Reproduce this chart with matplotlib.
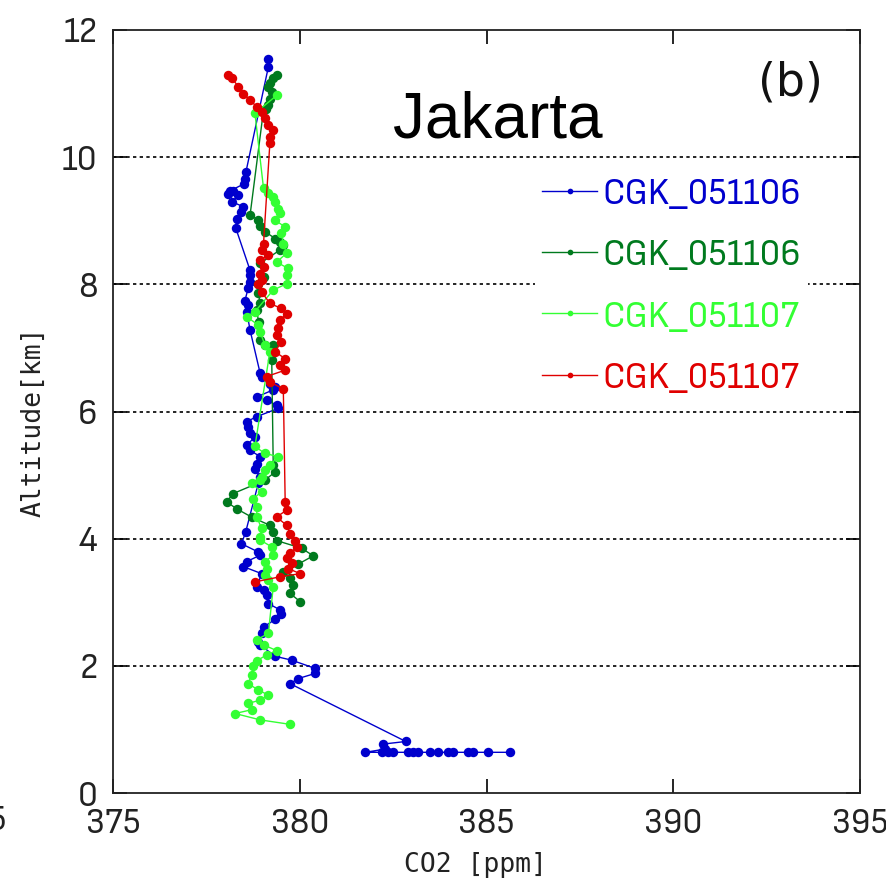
import matplotlib
matplotlib.use("Agg")
import matplotlib.pyplot as plt
from matplotlib import font_manager as fm

# ---------------- data ----------------
series_labels = ["CGK_051106", "CGK_051106", "CGK_051107", "CGK_051107"]
series_colors = ["#0000CD", "#007A1E", "#33FF33", "#E00000"]

blue_co2 = [379.16, 379.16, 378.56, 378.53, 378.51, 378.13, 378.22, 378.09, 378.36, 378.18,
            378.49, 378.44, 378.31, 378.29, 378.67, 378.67, 378.67, 378.62, 378.53, 378.62,
            378.58, 378.67, 378.94, 378.98, 379.20, 379.34, 379.29, 378.85, 379.11, 379.38,
            379.43, 378.85, 378.58, 378.62, 378.67, 378.80, 378.58, 378.67, 378.94, 378.85,
            378.80, 378.94, 378.89, 378.55, 378.44, 378.89, 378.94, 378.58, 378.49, 378.98,
            378.85, 379.03, 379.11, 379.16, 379.47, 379.51, 379.34, 379.03, 378.98, 378.89,
            378.94, 379.34, 379.78, 380.41, 380.41, 379.96, 379.74, 382.84, 382.24, 382.28,
            381.75, 382.19, 382.37, 382.50, 382.91, 383.04, 383.17, 383.49, 383.71, 383.97,
            384.11, 384.51, 384.64, 385.05, 385.63]
blue_alt = [11.55, 11.42, 9.77, 9.66, 9.58, 9.47, 9.47, 9.42, 9.40, 9.30,
            9.22, 9.14, 9.03, 8.88, 8.22, 8.14, 8.04, 7.94, 7.74, 7.67,
            7.57, 7.28, 6.60, 6.55, 6.44, 6.39, 6.34, 6.23, 6.18, 6.10,
            6.05, 5.92, 5.84, 5.76, 5.66, 5.60, 5.47, 5.39, 5.29, 5.18,
            5.10, 4.97, 4.87, 4.10, 3.92, 3.79, 3.74, 3.64, 3.56, 3.45,
            3.24, 3.19, 3.11, 2.98, 2.88, 2.82, 2.73, 2.61, 2.51, 2.38,
            2.33, 2.15, 2.09, 1.96, 1.88, 1.80, 1.72, 0.81, 0.77, 0.69,
            0.64, 0.64, 0.64, 0.64, 0.64, 0.64, 0.64, 0.64, 0.64, 0.64,
            0.64, 0.64, 0.64, 0.64, 0.64]

dgreen_co2 = [379.38, 379.29, 379.20, 379.16, 379.25, 379.20, 379.16, 379.10, 379.03,
              378.67, 378.89, 378.94, 379.07, 379.34, 379.47, 379.56, 379.47, 378.94, 379.03,
              378.89, 378.89, 378.94, 378.85, 378.90, 378.94, 379.07, 379.29, 379.25, 379.25,
              379.29, 379.34, 379.07, 378.22, 378.04, 378.31, 378.71, 379.20, 379.29, 379.38,
              380.05, 380.36, 379.96, 379.56, 379.74, 379.83, 379.74, 380.01]
dgreen_alt = [11.29, 11.24, 11.16, 11.11, 11.03, 10.92, 10.82, 10.76, 10.74,
              9.09, 9.01, 8.92, 8.83, 8.72, 8.67, 8.62, 8.54, 8.33, 8.12,
              8.01, 7.86, 7.70, 7.59, 7.40, 7.12, 7.04, 7.04, 6.94, 6.81,
              5.16, 5.05, 4.92, 4.71, 4.58, 4.47, 4.34, 4.21, 4.11, 3.97,
              3.85, 3.73, 3.60, 3.48, 3.38, 3.27, 3.14, 3.01]

lime_co2 = [379.38, 378.80, 379.03, 379.16, 379.29, 379.34, 379.43, 379.47, 379.34, 379.61,
            379.51, 379.56, 379.65, 379.38, 379.69, 379.65, 379.65, 379.29, 378.80, 378.58,
            378.89, 378.94, 379.07, 379.20, 378.80, 379.07, 379.43, 379.20, 379.07, 378.98,
            378.94, 378.71, 378.98, 378.76, 378.85, 378.85, 378.98, 378.94, 378.94, 379.25,
            379.29, 379.07, 379.11, 379.07, 379.16, 379.29, 379.16, 378.85, 379.03, 379.38,
            379.11, 378.85, 378.76, 378.71, 378.62, 378.89, 379.16, 378.94, 378.62, 378.71,
            378.27, 378.94, 379.74]
lime_alt = [10.97, 10.69, 9.51, 9.43, 9.38, 9.30, 9.19, 9.12, 9.01, 8.90,
            8.80, 8.64, 8.49, 8.35, 8.25, 8.14, 8.01, 7.91, 7.57, 7.49,
            7.36, 7.25, 7.04, 6.94, 5.45, 5.34, 5.29, 5.16, 5.08, 4.97,
            4.92, 4.87, 4.74, 4.63, 4.50, 4.34, 4.16, 4.03, 3.98, 3.87,
            3.74, 3.64, 3.53, 3.43, 3.35, 3.24, 2.51, 2.41, 2.33, 2.24,
            2.17, 2.08, 1.99, 1.86, 1.72, 1.62, 1.54, 1.46, 1.41, 1.31,
            1.25, 1.15, 1.08]

red_co2 = [378.09, 378.18, 378.36, 378.49, 378.67, 378.85, 378.98, 379.07, 379.16, 379.29,
           379.20, 379.20, 379.03, 378.98, 379.16, 378.94, 379.03, 378.94, 378.98, 378.89,
           378.98, 379.20, 379.51, 379.65, 379.47, 379.43, 379.38, 379.51, 379.34, 379.61,
           379.47, 379.61, 379.11, 379.20, 379.56, 379.61, 379.65, 379.38, 379.65, 379.74,
           379.87, 379.92, 379.74, 379.65, 379.78, 379.69, 380.01, 379.47, 378.80]
red_alt = [11.29, 11.24, 11.11, 11.00, 10.90, 10.79, 10.71, 10.61, 10.50, 10.42,
           10.32, 10.22, 8.64, 8.54, 8.46, 8.38, 8.28, 8.17, 8.07, 8.01,
           7.88, 7.70, 7.62, 7.54, 7.44, 7.31, 7.20, 7.10, 6.94, 6.83,
           6.73, 6.65, 6.55, 6.47, 6.35, 4.58, 4.45, 4.34, 4.21, 4.08,
           3.97, 3.87, 3.77, 3.69, 3.61, 3.53, 3.45, 3.40, 3.32]

x_ticks = [375, 380, 385, 390, 395]
y_ticks = [0, 2, 4, 6, 8, 10, 12]
grid_levels = [2, 4, 6, 8, 10]


# ---------------- fonts ----------------
def narrow_font():
    """Pick an installed condensed sans font if there is one."""
    best = None
    for f in fm.fontManager.ttflist:
        name = f.name.lower()
        fn = f.fname.lower()
        if f.style != "normal" or f.weight not in (400, "normal", "regular"):
            continue
        cond = (f.stretch in ("condensed", "semi-condensed") or "condensed" in fn
                or "narrow" in name or "condensed" in name)
        if cond and "bold" not in fn and "oblique" not in fn and "italic" not in fn \
                and "light" not in fn and "mono" not in fn:
            if best is None or "sans" in name:
                best = f
    return best


nf = narrow_font()
if nf is not None:
    tick_prop = dict(fname=nf.fname)
else:
    tick_prop = dict(family=["Noto Sans CJK JP", "DejaVu Sans"])

label_font = ["DejaVu Sans Mono", "DejaVu Sans"]

# ---------------- figure ----------------
fig = plt.figure(figsize=(8.87, 8.84), dpi=100)
ax = fig.add_axes([113 / 887, 1 - 793 / 884, 747 / 887, 763 / 884])

for lvl in grid_levels:
    ax.axhline(lvl, color="black", lw=1.2, ls=(0, (2.0, 2.0)), zorder=1)

all_x = [blue_co2, dgreen_co2, lime_co2, red_co2]
all_y = [blue_alt, dgreen_alt, lime_alt, red_alt]
for xs, ys, c, lab in zip(all_x, all_y, series_colors, series_labels):
    ax.plot(xs, ys, "-o", color=c, lw=1.0, ms=6.8, mew=0, label=lab, zorder=3)

ax.set_xlim(375, 395)
ax.set_ylim(0, 12)
ax.set_xticks(x_ticks)
ax.set_yticks(y_ticks)
ax.tick_params(direction="in", length=10, width=1.2, top=True, right=True,
               pad=11, colors="black")
for lab in ax.get_xticklabels() + ax.get_yticklabels():
    lab.set_fontproperties(fm.FontProperties(size=26, **tick_prop))
    lab.set_color("#222222")
for sp in ax.spines.values():
    sp.set_linewidth(1.3)
    sp.set_color("#222222")

ax.set_xlabel("CO2 [ppm]", fontsize=19, family=label_font, color="#222222")
ax.set_ylabel("Altitude[km]", fontsize=19, family=label_font, color="#222222")
ax.xaxis.set_label_coords((475 - 113) / 747, (793 - 878) / 763)
ax.yaxis.set_label_coords((20 - 113) / 747, (793 - 422) / 763)
ax.yaxis.label.set_verticalalignment("top")
ax.xaxis.label.set_verticalalignment("bottom")

ax.text((393 - 113) / 747, (793 - 138) / 763, "Jakarta", transform=ax.transAxes,
        fontsize=46, family="Liberation Sans", ha="left", va="baseline", color="black")
ax.text((790 - 113) / 747, (793 - 83) / 763, "(b)", transform=ax.transAxes,
        fontsize=33, family="DejaVu Sans", ha="center", va="center", color="#111111")

leg = ax.legend(loc="upper left", bbox_to_anchor=((535 - 113) / 747, (793 - 170) / 763),
                frameon=True, fancybox=False, framealpha=1.0, edgecolor="none",
                facecolor="white", prop=fm.FontProperties(size=27, **tick_prop),
                handlelength=1.45, handletextpad=0.15, labelspacing=0.75,
                borderpad=0.2, borderaxespad=0.0, markerscale=0.6,
                labelcolor="linecolor")
leg.set_zorder(5)

# partial tick label of the neighbouring panel at the far left edge
fig.text(7 / 887, 1 - 821 / 884, "395", ha="right", va="center", color="#222222",
         fontproperties=fm.FontProperties(size=26, **tick_prop))

fig.savefig("out.png", dpi=100)
